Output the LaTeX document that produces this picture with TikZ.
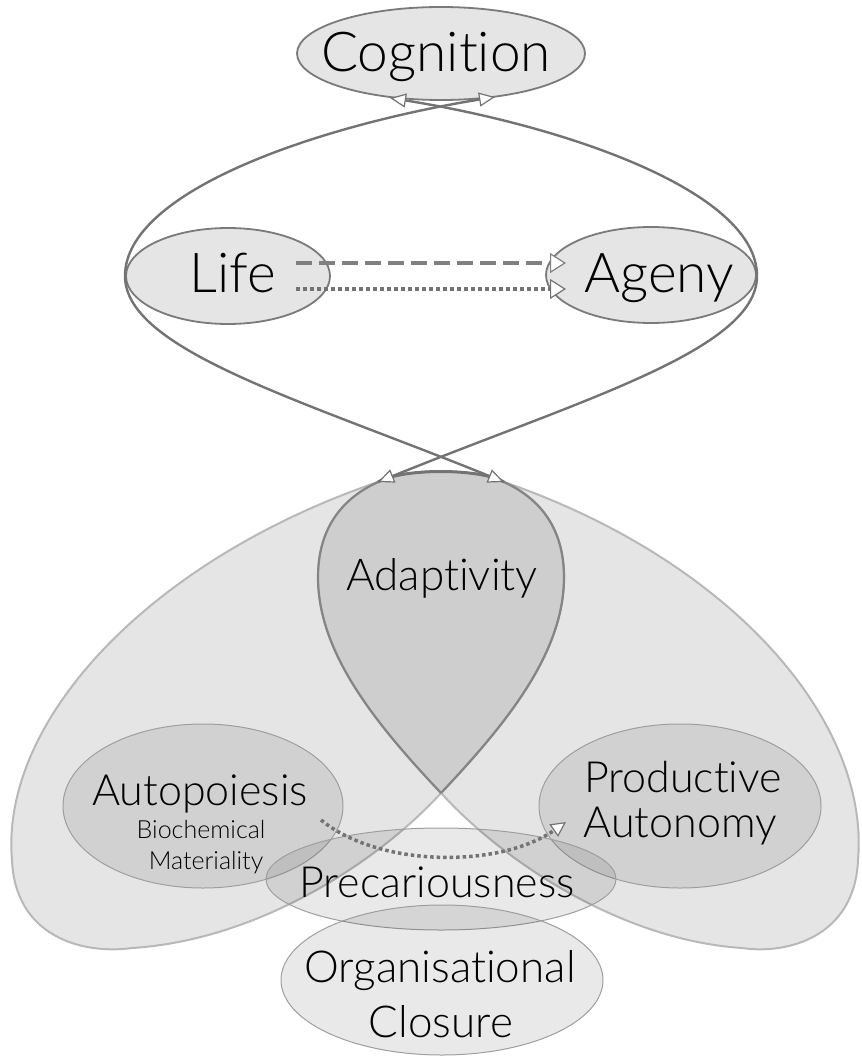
\documentclass[tikz,border=0pt]{standalone}
\usepackage{fontspec}
\setmainfont{Lato Light}[Ligatures=NoCommon]
\usetikzlibrary{arrows.meta,shapes.geometric}
\begin{document}
\begin{tikzpicture}[x=1pt,y=-1pt,
  topblob/.style={ellipse, draw=black!52, line width=1.8pt, fill=black!10, inner sep=0pt},
  lowblob/.style={ellipse, draw=black!38, line width=1pt, fill=black, fill opacity=0.085, inner sep=0pt},
  lobe/.style={fill=black, fill opacity=0.1, draw=black!28, line width=2pt},
  adaptedge/.style={draw=black!48, line width=2.2pt},
  loopline/.style={draw=black!55, line width=2.4pt},
  dashline/.style={draw=black!50, line width=4pt, dash pattern=on 16pt off 7pt},
  dotline/.style={draw=black!55, line width=4pt, dash pattern=on 4pt off 3pt},
  curvedot/.style={draw=black!55, line width=3.5pt, dash pattern=on 3.5pt off 3pt},
  bigtxt/.style={anchor=base, inner sep=0pt, font=\fontsize{55}{60}\selectfont},
  midtxt/.style={anchor=base, inner sep=0pt, font=\fontsize{43}{48}\selectfont},
  smalltxt/.style={anchor=base, inner sep=0pt, font=\fontsize{25}{28}\selectfont}
]
\useasboundingbox (0,0) rectangle (861,1056);

% key points of the two lobes and of the crossing loop
\coordinate (adL) at (378,482);
\coordinate (adR) at (504,482);
\coordinate (xc) at (441,793);
\coordinate (cogL) at (390,98);
\coordinate (cogR) at (495,97);

% left lobe
\path[lobe] (adR) .. controls (480,468) and (402,468) .. (adL)
  .. controls (150,560) and (0,720) .. (12,860)
  .. controls (15,935) and (80,955) .. (132,948)
  .. controls (260,940) and (380,860) .. (xc)
  .. controls (510,720) and (565,650) .. (564,575)
  .. controls (563,520) and (532,495) .. (adR) -- cycle;
% right lobe
\path[lobe] (adL) .. controls (402,468) and (480,468) .. (adR)
  .. controls (730,560) and (870,720) .. (858,860)
  .. controls (855,935) and (790,955) .. (742,948)
  .. controls (620,940) and (502,860) .. (xc)
  .. controls (372,720) and (317,650) .. (318,575)
  .. controls (319,520) and (350,495) .. (adL) -- cycle;
% overlap of the lobes: adaptivity
\draw[adaptedge] (xc) .. controls (372,720) and (317,650) .. (318,575)
  .. controls (319,520) and (350,495) .. (adL);
\draw[adaptedge] (xc) .. controls (510,720) and (565,650) .. (564,575)
  .. controls (563,520) and (532,495) .. (adR);
\draw[draw=black!55, line width=3pt] (adL) .. controls (402,468) and (480,468) .. (adR);

% top ellipses
\node[topblob, minimum width=288pt, minimum height=93pt] (cog) at (441,53.5) {};
\node[topblob, minimum width=204pt, minimum height=96pt] (life) at (228,276) {};
\node[topblob, minimum width=210pt, minimum height=96pt] (ageny) at (651,275) {};

% lower ellipses
\node[lowblob, minimum width=280pt, minimum height=164pt] (auto) at (203,806) {};
\node[lowblob, minimum width=282pt, minimum height=164pt] (prod) at (680,806) {};
\node[lowblob, minimum width=350pt, minimum height=102pt] (prec) at (441,879) {};
\node[lowblob, minimum width=322pt, minimum height=150pt] (orgc) at (442,980) {};

% crossing loop between cognition and adaptivity
\draw[loopline, {Triangle[fill=white, length=16pt, width=14pt, line width=1.2pt]}-{Triangle[fill=white, length=16pt, width=14pt, line width=1.2pt]}]
  (cogL) .. controls (560,125) and (757,190) .. (757,276)
  .. controls (757,350) and (580,400) .. (adL);
\draw[loopline, {Triangle[fill=white, length=16pt, width=14pt, line width=1.2pt]}-{Triangle[fill=white, length=16pt, width=14pt, line width=1.2pt]}]
  (cogR) .. controls (322,125) and (125,190) .. (125,276)
  .. controls (125,350) and (302,400) .. (adR);

% life -> ageny
\coordinate (dashS) at (296,263);
\coordinate (dashE) at (566,263);
\coordinate (dotS) at (296,289);
\coordinate (dotE) at (566,289);
\draw[dashline, -{Triangle[fill=white, length=16pt, width=20pt, line width=1.2pt]}] (dashS) -- (dashE);
\draw[dotline, -{Triangle[fill=white, length=16pt, width=20pt, line width=1.2pt]}] (dotS) -- (dotE);

% autopoiesis -> productive autonomy
\coordinate (autoS) at (321,820);
\coordinate (prodE) at (566,822);
\draw[curvedot, -{Triangle[fill=white, length=15pt, width=15pt, line width=1.2pt]}]
  (autoS) .. controls (380,868) and (500,868) .. (prodE);

% labels
\node[bigtxt] (tcog) at (436,72) {Cognition};
\node[bigtxt] (tlife) at (233,292) {Life};
\node[bigtxt] (tageny) at (659,292) {Ageny};
\node[midtxt, font=\fontsize{44}{48}\selectfont] (tadapt) at (442,590) {Adaptivity};
\node[midtxt] (tauto) at (200,805) {Autopoiesis};
\node[smalltxt] (tbio) at (201,838) {Biochemical};
\node[smalltxt] (tmat) at (206,869) {Materiality};
\node[midtxt] (tprod) at (683,792) {Productive};
\node[midtxt] (tauton) at (680,837) {Autonomy};
\node[midtxt] (tprec) at (437,897) {Precariousness};
\node[midtxt, font=\fontsize{44}{48}\selectfont] (torg) at (440,982) {Organisational};
\node[midtxt, font=\fontsize{44}{48}\selectfont] (tclo) at (441,1037) {Closure};
\end{tikzpicture}
\end{document}
